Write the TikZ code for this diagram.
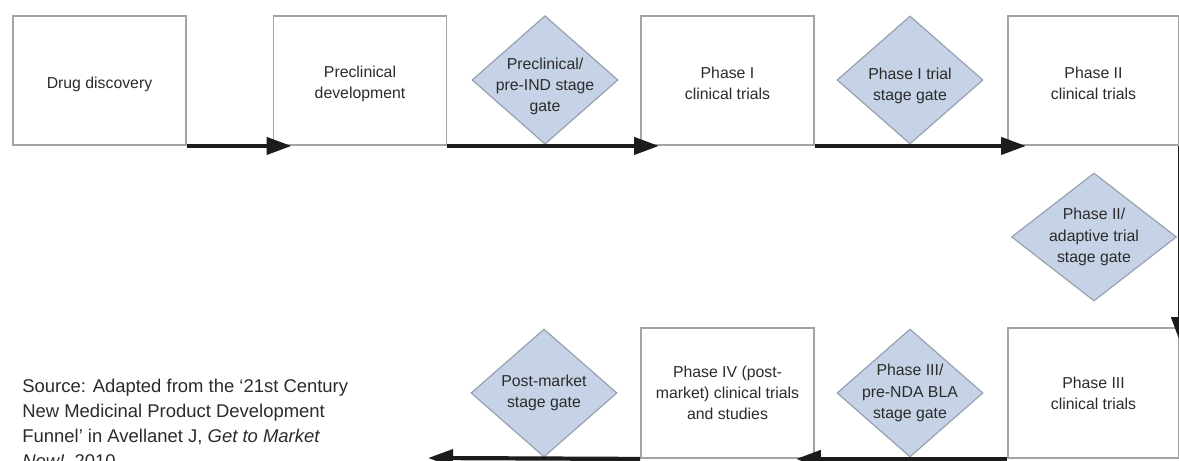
\documentclass[tikz,border=0pt]{standalone}
\usepackage{fontspec}
\setmainfont{Liberation Sans}
\usetikzlibrary{arrows.meta, positioning, shapes.geometric}
\definecolor{boxline}{HTML}{A4A4A4}
\definecolor{gatefill}{HTML}{C6D3E6}
\definecolor{gateline}{HTML}{98A2B2}
\definecolor{txt}{HTML}{2B2B2B}
\definecolor{flowcol}{HTML}{1C1C1C}

\begin{document}
\begin{tikzpicture}[
	box/.style={draw=boxline, line width=1.1pt, fill=white, minimum width=3.46cm, minimum height=2.58cm, inner sep=0pt, align=center, text=txt, font=\fontsize{9}{12}\selectfont},
	gate/.style={diamond, draw=gateline, line width=0.7pt, fill=gatefill, minimum width=2.92cm, minimum height=2.56cm, inner sep=-0.2cm, align=center, text=txt, font=\fontsize{9}{12}\selectfont},
	flow/.style={draw=flowcol, line width=2.4pt, -{Triangle[length=0.5cm,width=0.34cm]}},
	src/.style={align=left, inner sep=0pt, text=txt, font=\fontsize{10.5}{14.2}\selectfont}
]
\useasboundingbox (0,0) rectangle (23.58,9.22);

\node[box, text height=11pt](drug) at (1.99,7.61) {Drug discovery};
\node[box, text height=22pt](pre) at (7.20,7.61) {Preclinical\\development};
\node[box, text height=22pt](ph1) at (14.55,7.61) {Phase I\\clinical trials};
\node[box, text height=22pt, minimum width=3.42cm](ph2) at (21.87,7.61) {Phase II\\clinical trials};
\node[box, minimum width=3.42cm, minimum height=2.6cm](ph3) at (21.87,1.36) {Phase III\\clinical trials};
\node[box, minimum height=2.6cm](ph4) at (14.55,1.36) {Phase IV (post-\\market) clinical trials\\and studies};

\node[gate, text height=38pt](g1) at (10.90,7.62) {Preclinical/\\pre-IND stage\\gate};
\node[gate, text height=25pt](g2) at (18.20,7.62) {Phase I trial\\stage gate};
\node[gate, minimum width=3.3cm](g3) at (21.88,4.48) {Phase II/\\adaptive trial\\stage gate};
\node[gate](g4) at (18.20,1.36) {Phase III/\\pre-NDA BLA\\stage gate};
\node[gate](g5) at (10.88,1.36) {Post-market\\stage gate};

\coordinate(fin) at (8.56,0.06);

\node[src, anchor=north west](source) at (0.44,1.64) {Source: Adapted from the ‘21st Century\\New Medicinal Product Development\\Funnel’ in Avellanet J, \textit{Get to Market}\\\textit{Now!}, 2010};

\draw	(drug.south east) edge[flow] ([xshift=0.38cm]pre.south west)
		(pre.south east) edge[flow] ([xshift=0.38cm]ph1.south west)
		(ph1.south east) edge[flow] ([xshift=0.38cm]ph2.south west)
		(ph2.south east) edge[flow] ([yshift=-0.3cm]ph3.north east)
		(ph3.south west) edge[flow] ([xshift=-0.38cm]ph4.south east)
		(ph4.south west) edge[flow] (fin)
		;

\end{tikzpicture}
\end{document}
